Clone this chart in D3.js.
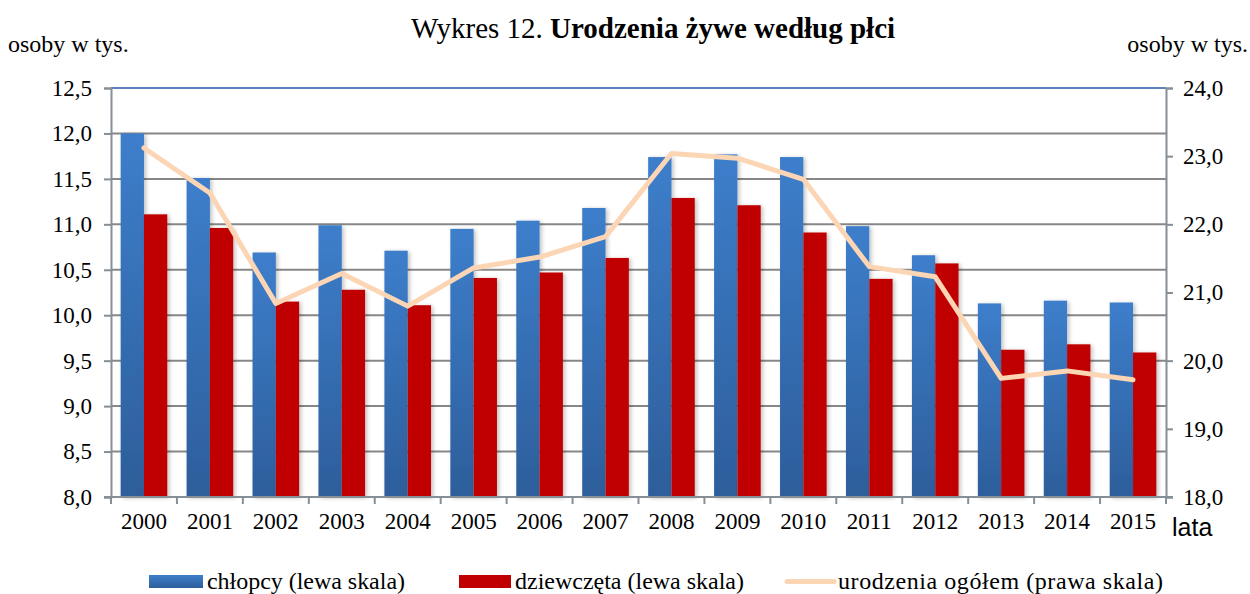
<!DOCTYPE html>
<html><head><meta charset="utf-8">
<script src="https://cdn.jsdelivr.net/npm/d3@7"></script>
<style>
html,body{margin:0;padding:0;background:#fff;}
svg text{font-family:"Liberation Serif","Times New Roman","DejaVu Serif",serif;fill:#000;}
</style></head>
<body>
<svg id="c" width="1250" height="594"></svg>
<script>
const years = ["2000","2001","2002","2003","2004","2005","2006","2007","2008","2009","2010","2011","2012","2013","2014","2015"];
const boys  = [12.00,11.51,10.69,10.99,10.71,10.95,11.04,11.18,11.74,11.77,11.74,10.98,10.66,10.13,10.16,10.14];
const girls = [11.11,10.96,10.15,10.28,10.11,10.41,10.47,10.63,11.29,11.21,10.91,10.40,10.57,9.62,9.68,9.59];
const total = [23.12,22.46,20.84,21.28,20.80,21.36,21.52,21.82,23.04,22.97,22.66,21.38,21.23,19.74,19.85,19.72];
const leftTicks  = [8.0,8.5,9.0,9.5,10.0,10.5,11.0,11.5,12.0,12.5];
const rightTicks = [18,19,20,21,22,23,24];
const seriesNames = ["chłopcy (lewa skala)","dziewczęta (lewa skala)","urodzenia ogółem (prawa skala)"];

const svg = d3.select("#c");
const L = 111, R = 1166, T = 88, B = 497;
const serif = "'Liberation Serif','Times New Roman',serif";
const fmt = v => d3.format(".1f")(v).replace(".", ",");

const x0 = d3.scaleBand().domain(years).range([L, R]).paddingInner(0.293).paddingOuter(0.1465);
const x1 = d3.scaleBand().domain(["b","g"]).range([0, x0.bandwidth()]);
const yL = d3.scaleLinear().domain([8, 12.5]).range([B, T]);
const yR = d3.scaleLinear().domain([18, 24]).range([B, T]);

const defs = svg.append("defs");
const grad = defs.append("linearGradient").attr("id","gb").attr("x1",0).attr("y1",0).attr("x2",0).attr("y2",1);
grad.append("stop").attr("offset","0%").attr("stop-color","#3d7ecb");
grad.append("stop").attr("offset","100%").attr("stop-color","#2d5e9b");
const f = defs.append("filter").attr("id","sh").attr("x","-20%").attr("y","-5%").attr("width","150%").attr("height","110%");
f.append("feGaussianBlur").attr("in","SourceAlpha").attr("stdDeviation",2);
f.append("feOffset").attr("dx",2).attr("dy",1).attr("result","ob");
f.append("feComponentTransfer").append("feFuncA").attr("type","linear").attr("slope",0.25);
const fm = f.append("feMerge"); fm.append("feMergeNode"); fm.append("feMergeNode").attr("in","SourceGraphic");

// gridlines
svg.append("g").selectAll("line").data(leftTicks.filter(v=>v>8)).join("line")
  .attr("x1",L).attr("x2",R).attr("y1",d=>yL(d)).attr("y2",d=>yL(d))
  .attr("stroke",d=>d===12.5?"#5a84bb":"#878787").attr("stroke-width",2);

// bars
const g = svg.append("g").selectAll("g").data(years).join("g").attr("transform",d=>`translate(${x0(d)},0)`);
g.append("rect").attr("x",x1("b")).attr("width",x1.bandwidth())
  .attr("y",(d,i)=>yL(boys[i])).attr("height",(d,i)=>B-yL(boys[i]))
  .attr("fill","url(#gb)").attr("filter","url(#sh)");
g.append("rect").attr("x",x1("g")).attr("width",x1.bandwidth())
  .attr("y",(d,i)=>yL(girls[i])).attr("height",(d,i)=>B-yL(girls[i]))
  .attr("fill","#c00000").attr("filter","url(#sh)");

// line
const line = d3.line().x((d,i)=>x0(years[i])+x0.bandwidth()/2).y(d=>yR(d));
svg.append("path").datum(total).attr("d",line).attr("fill","none")
  .attr("stroke","#fcd5b5").attr("stroke-width",5).attr("stroke-linejoin","round").attr("stroke-linecap","round");

// axes
const axStyle = sel => { sel.attr("font-family",serif);
  sel.select(".domain").attr("stroke","#868e96").attr("stroke-width",2);
  sel.selectAll(".tick line").attr("stroke","#868e96").attr("stroke-width",2);
  sel.selectAll(".tick text").style("font-family",serif).style("font-size","23px").attr("fill","#000"); };

const axL = svg.append("g").attr("transform",`translate(${L},0)`)
  .call(d3.axisLeft(yL).tickValues(leftTicks).tickFormat(fmt).tickSizeOuter(0).tickSize(7).tickPadding(12));
axStyle(axL);
const axR = svg.append("g").attr("transform",`translate(${R},0)`)
  .call(d3.axisRight(yR).tickValues(rightTicks).tickFormat(fmt).tickSizeOuter(0).tickSize(7).tickPadding(10));
axStyle(axR);
const axB = svg.append("g").attr("transform",`translate(0,${B})`)
  .call(d3.axisBottom(x0).tickSize(0).tickPadding(16));
axB.select(".domain").remove();
axB.attr("font-family",serif);
axB.selectAll(".tick text").style("font-family",serif).style("font-size","23px");
svg.append("line").attr("x1",L-7).attr("x2",R+7).attr("y1",B).attr("y2",B).attr("stroke","#868e96").attr("stroke-width",2);
// category boundary ticks
const bounds = years.map(y=>x0(y)-x0.step()*x0.paddingInner()/2).concat([R]);
svg.append("g").selectAll("line").data(bounds).join("line")
  .attr("x1",d=>d).attr("x2",d=>d).attr("y1",B).attr("y2",B+7).attr("stroke","#868e96").attr("stroke-width",2);

// texts
const title = svg.append("text").attr("x",653).attr("y",38).attr("text-anchor","middle").style("font-size","29px");
title.append("tspan").text("Wykres 12. ");
title.append("tspan").attr("font-weight","bold").text("Urodzenia żywe według płci");
svg.append("text").attr("x",8).attr("y",52).style("font-size","24px").text("osoby w tys.");
svg.append("text").attr("x",1248).attr("y",52).attr("text-anchor","end").style("font-size","24px").text("osoby w tys.");
svg.append("text").attr("x",1172).attr("y",536).style("font-family","'Liberation Sans',Arial,sans-serif").style("font-size","25px").text("lata");

// legend
const lg = svg.append("g");
lg.append("rect").attr("x",149).attr("y",575).attr("width",54).attr("height",13).attr("fill","url(#gb)");
lg.append("text").attr("x",207).attr("y",589).style("font-size","24px").attr("textLength",198).attr("lengthAdjust","spacing").text(seriesNames[0]);
lg.append("rect").attr("x",459).attr("y",575).attr("width",52).attr("height",13).attr("fill","#c00000");
lg.append("text").attr("x",515).attr("y",589).style("font-size","24px").attr("textLength",229).attr("lengthAdjust","spacing").text(seriesNames[1]);
lg.append("line").attr("x1",787).attr("x2",834).attr("y1",581.5).attr("y2",581.5).attr("stroke","#fcd5b5").attr("stroke-width",5).attr("stroke-linecap","round");
lg.append("text").attr("x",838).attr("y",589).style("font-size","24px").attr("textLength",325).attr("lengthAdjust","spacing").text(seriesNames[2]);
</script>
</body></html>
